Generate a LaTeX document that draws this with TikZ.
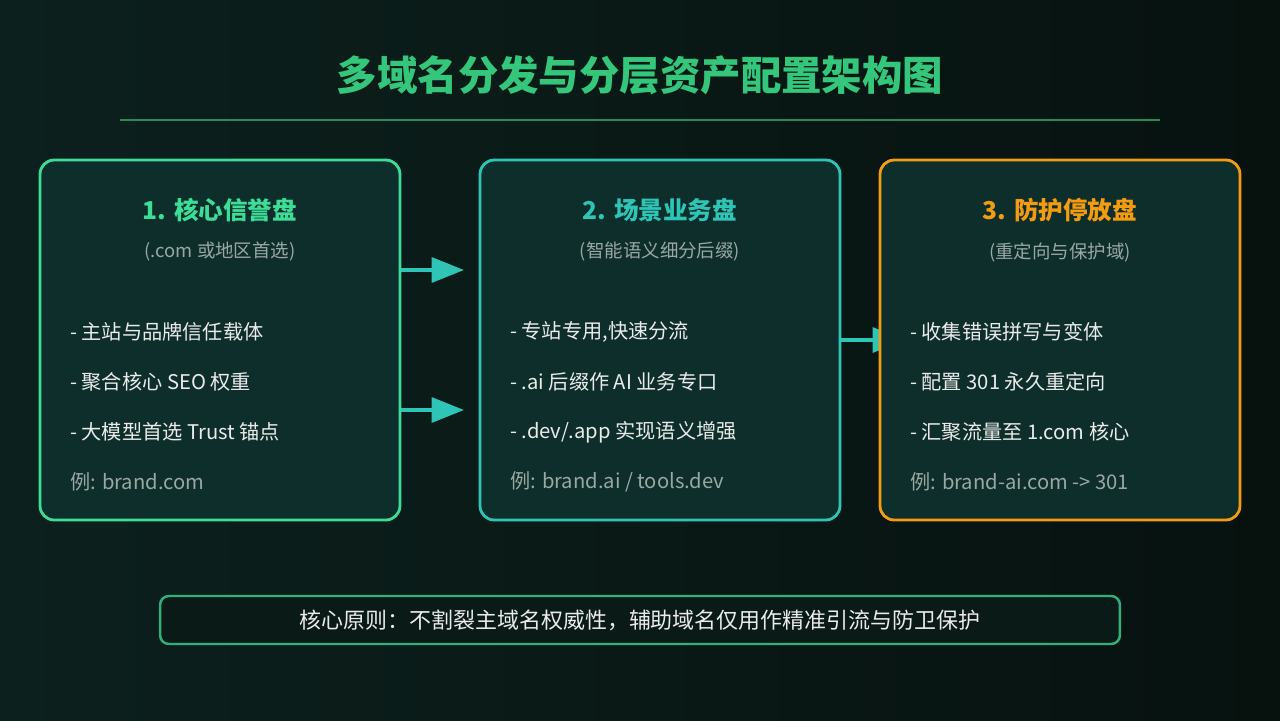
\documentclass[tikz,border=0pt]{standalone}
\usepackage{fontspec}
\setmainfont{Noto Sans CJK SC}
\usetikzlibrary{arrows.meta, positioning}
\definecolor{bgdark}{HTML}{07120F}
\definecolor{bgmid}{HTML}{0C201D}
\definecolor{boxfill}{HTML}{0D2E2B}
\definecolor{green1}{HTML}{3DDC97}
\definecolor{teal1}{HTML}{2EC4B6}
\definecolor{orange1}{HTML}{F39C12}
\definecolor{titlegreen}{HTML}{34C77B}
\definecolor{subgray}{HTML}{9AA8A4}
\begin{document}
\begin{tikzpicture}[x=0.02cm, y=-0.02cm,
    every node/.style={font=\fontsize{11.5pt}{14pt}\selectfont, text=white!92!black},
    card/.style={draw, rounded corners=8pt, line width=1.6pt, fill=boxfill, minimum width=7.2cm, minimum height=7.2cm},
    head/.style={font=\fontsize{14pt}{16pt}\selectfont\bfseries},
    sub/.style={text=subgray, font=\fontsize{10.5pt}{13pt}\selectfont},
    item/.style={anchor=west},
    note/.style={anchor=west, text=subgray},
    arrow/.style={line width=2pt, teal1, -{Triangle[length=0.65cm, width=0.5cm]}}
  ]
    % Background
    \shade[left color=bgmid, right color=bgdark] (0,0) rectangle (1280,720);
    \useasboundingbox (0,0) rectangle (1280,720);
    % Title
    \node[font=\fontsize{23pt}{26pt}\selectfont\bfseries, text=titlegreen] (title) at (640,75) {多域名分发与分层资产配置架构图};
    \draw[titlegreen!70!black, line width=1.5pt] (120,120) -- (1160,120);
    % Cards
    \node[card, draw=green1] (core) at (220,340) {};
    \node[card, draw=teal1] (scene) at (660,340) {};
    \coordinate (a3) at (905,340);
    \draw[arrow] (scene.east |- a3) -- (a3);
    \node[card, draw=orange1] (guard) at (1060,340) {};
    % Card 1
    \node[head, text=green1] (coreh) at (220,210) {1. 核心信誉盘};
    \node[sub] at (220,252) {(.com 或地区首选)};
    \node[item] at (64,332) {- 主站与品牌信任载体};
    \node[item] at (64,382) {- 聚合核心 SEO 权重};
    \node[item] at (64,432) {- 大模型首选 Trust 锚点};
    \node[note] at (64,482) {例: brand.com};
    % Card 2
    \node[head, text=teal1] (sceneh) at (660,210) {2. 场景业务盘};
    \node[sub] at (660,252) {(智能语义细分后缀)};
    \node[item] at (504,332) {- 专站专用,快速分流};
    \node[item] at (504,382) {- .ai 后缀作 AI 业务专口};
    \node[item] at (504,432) {- .dev/.app 实现语义增强};
    \node[note] at (504,482) {例: brand.ai / tools.dev};
    % Card 3
    \node[head, text=orange1] (guardh) at (1060,210) {3. 防护停放盘};
    \node[sub] at (1060,252) {(重定向与保护域)};
    \node[item] at (904,332) {- 收集错误拼写与变体};
    \node[item] at (904,382) {- 配置 301 永久重定向};
    \node[item] at (904,432) {- 汇聚流量至 1.com 核心};
    \node[note] at (904,482) {例: brand-ai.com -> 301};
    % Arrows
    \coordinate (a1) at (464,270);
    \coordinate (a2) at (464,410);
    \draw[arrow] (core.east |- a1) -- (a1);
    \draw[arrow] (core.east |- a2) -- (a2);
    % Principle
    \node[draw=green1!80!black, line width=1.4pt, rounded corners=5pt, fill=bgdark!70!boxfill, minimum width=19.2cm, minimum height=0.96cm, font=\fontsize{12.5pt}{15pt}\selectfont] (rule) at (640,620) {核心原则：不割裂主域名权威性，辅助域名仅用作精准引流与防卫保护};
\end{tikzpicture}
\end{document}
